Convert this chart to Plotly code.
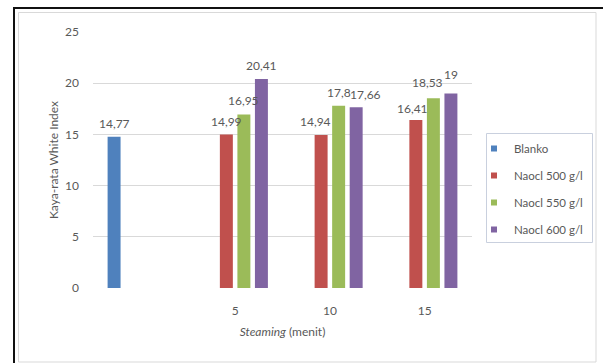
import plotly.graph_objects as go

# Categories on the x axis: the first slot holds the control (Blanko)
categories = ["", "5", "10", "15"]

blanko = [14.77, None, None, None]
naocl_500 = [None, 14.99, 14.94, 16.41]
naocl_550 = [None, 16.95, 17.8, 18.53]
naocl_600 = [None, 20.41, 17.66, 19]

series_names = ["Blanko", "Naocl 500 g/l", "Naocl 550 g/l", "Naocl 600 g/l"]
series_values = [blanko, naocl_500, naocl_550, naocl_600]
series_colors = ["#4F81BD", "#C0504D", "#9BBB59", "#8064A2"]

W, H = 603, 363
ML, MR, MT, MB = 93, 131, 32, 75
PW, PH = W - ML - MR, H - MT - MB
BARGAP = 0.26


def px_x(p):
    return (p - ML) / PW


def px_y(p):
    return (H - MB - p) / PH


def fmt(v):
    return f"{v:g}".replace(".", ",")


FONT = "Lato, Open Sans, sans-serif"
GRAY = "#595959"
FS = 12

# small hand nudges (dx, dy in px) for crowded value labels
label_nudge = {
    (1, "10"): (-6, 0),
    (3, "10"): (9, -1),
    (1, "15"): (-3, -2),
    (2, "15"): (-6, 2),
    (3, "15"): (0, 5),
}

fig = go.Figure()
n = len(series_names)
cat_px = PW / len(categories)
slot_px = cat_px * (1 - BARGAP) / n

annotations = []
for i, (name, vals, color) in enumerate(zip(series_names, series_values, series_colors)):
    fig.add_trace(go.Bar(
        name=name,
        x=categories,
        y=vals,
        marker=dict(color=color, line=dict(width=0)),
        showlegend=False,
        legendgroup=f"g{i}",
        hoverinfo="x+y+name",
    ))
    # legend entry with a small square swatch
    fig.add_trace(go.Scatter(
        name=name,
        x=[categories[1]], y=[None],
        mode="markers",
        marker=dict(symbol="square", size=6, color=color),
        legendgroup=f"g{i}",
    ))
    for j, (c, v) in enumerate(zip(categories, vals)):
        if v is None:
            continue
        dx, dy = label_nudge.get((i, c), (0, 0))
        annotations.append(dict(
            x=j, y=v, xref="x", yref="y",
            text=fmt(v), showarrow=False,
            xshift=(i - (n - 1) / 2) * slot_px + dx,
            yshift=13.5 + dy,
            yanchor="middle",
            font=dict(family=FONT, size=FS, color=GRAY),
        ))

fig.update_layout(
    width=W, height=H,
    margin=dict(l=ML, r=MR, t=MT, b=MB, pad=0),
    paper_bgcolor="white",
    plot_bgcolor="white",
    barmode="group",
    bargap=BARGAP,
    bargroupgap=0.26,
    font=dict(family=FONT, size=FS, color=GRAY),
    showlegend=True,
    legend=dict(
        x=px_x(474), y=px_y(134), xanchor="left", yanchor="top",
        bgcolor="rgba(0,0,0,0)",
        borderwidth=0,
        font=dict(family=FONT, size=11.5, color=GRAY),
        tracegroupgap=8,
        itemwidth=30,
        traceorder="grouped",
    ),
    xaxis=dict(
        type="category",
        categoryorder="array",
        categoryarray=categories,
        range=[-0.5, len(categories) - 0.5],
        showgrid=False,
        showline=False,
        ticks="",
        ticklabelstandoff=14,
        tickfont=dict(family=FONT, size=FS, color=GRAY),
        title=dict(text="<i>Steaming</i> (menit)", standoff=10,
                   font=dict(family=FONT, size=FS, color=GRAY)),
    ),
    yaxis=dict(
        range=[0, 25],
        dtick=5,
        showgrid=True, gridcolor="#d9d9d9", gridwidth=1,
        zeroline=False,
        showline=False,
        ticks="",
        ticklabelstandoff=13,
        tickfont=dict(family=FONT, size=FS, color=GRAY),
        title=dict(text="Kaya-rata White Index", standoff=3,
                   font=dict(family=FONT, size=FS, color=GRAY)),
    ),
    annotations=annotations,
    shapes=[
        # outer black frame (left and top visible)
        dict(type="rect", xref="paper", yref="paper",
             x0=px_x(14), x1=px_x(W + 20), y0=px_y(H + 20), y1=px_y(8),
             line=dict(color="#111111", width=2), fillcolor="rgba(0,0,0,0)", layer="above"),
        # inner chart area frame
        dict(type="rect", xref="paper", yref="paper",
             x0=px_x(18.5), x1=px_x(596), y0=px_y(362), y1=px_y(12.5),
             line=dict(color="#d9d9d9", width=1), fillcolor="rgba(0,0,0,0)", layer="below"),
        # legend box
        dict(type="rect", xref="paper", yref="paper",
             x0=px_x(486.5), x1=px_x(592.5), y0=px_y(242.5), y1=px_y(133.5),
             line=dict(color="#c9d0de", width=1), fillcolor="rgba(0,0,0,0)", layer="below"),
    ],
)

fig.write_html("out.html")
